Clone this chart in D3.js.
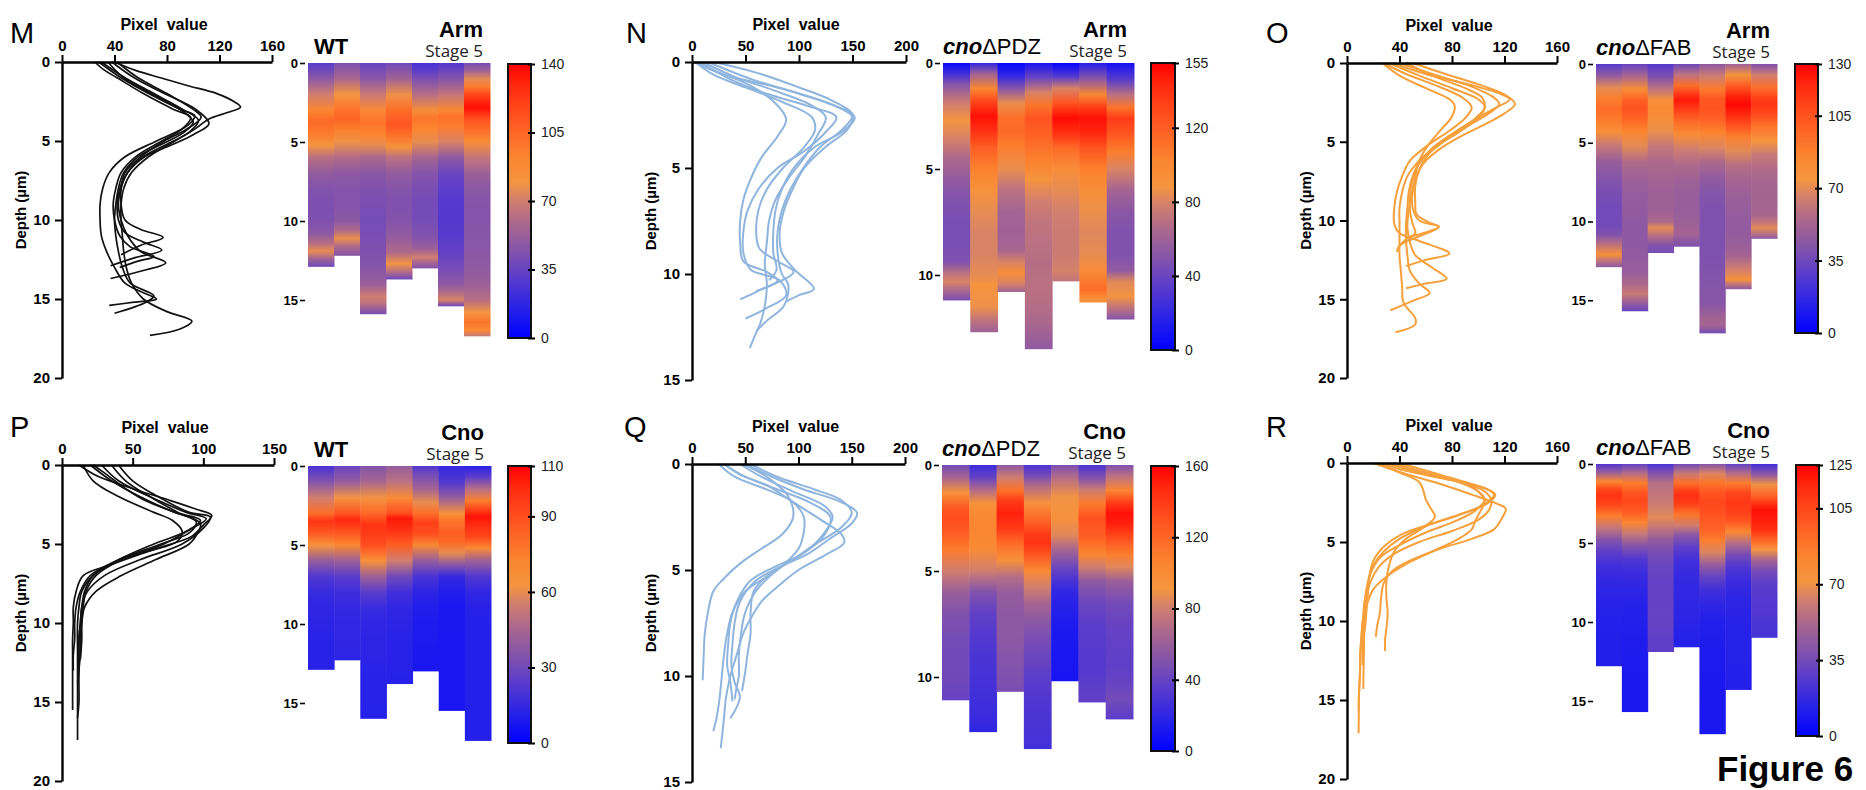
<!DOCTYPE html>
<html>
<head>
<meta charset="utf-8">
<script src="https://cdn.jsdelivr.net/npm/d3@7"></script>
<style>
  body { margin: 0; background: #fff; }
  svg { display: block; }
</style>
</head>
<body>
<svg id="fig" width="1866" height="790"></svg>
<script>
// ---- Datos: cada perfil es [valor de pixel, profundidad µm]; el orden coincide con las columnas del mapa de calor
const mCurves = [
  [[30,0],[48,1],[70,2],[92,3],[104,3.7],[96,4.5],[80,5.2],[62,6],[50,7],[44,8],[42,9],[43,10],[48,10.8],[62,11.4],[76,11.9],[55,12.4],[37,12.9]],
  [[42,0],[58,1],[80,2],[100,3],[106,3.5],[94,4.3],[78,5],[60,6],[48,7],[45,8],[45,9],[48,10],[60,10.6],[77,11.1],[60,11.6],[45,12.2]],
  [[35,0],[47,1],[68,2],[90,3],[100,3.8],[92,4.5],[76,5.2],[58,6],[47,7],[43,8],[41,9],[40,10],[41,11],[43,12],[46,13],[52,14],[70,14.8],[64,15.2],[40,15.9]],
  [[38,0],[55,1],[78,2],[102,3],[112,3.9],[100,4.6],[82,5.3],[63,6],[50,7],[45,8],[43,9],[45,10],[50,11],[60,12],[79,12.7],[62,13.2],[37,13.7]],
  [[25,0],[32,0.5],[42,1],[62,2],[85,3],[98,3.5],[92,4.2],[76,5],[56,6],[45,7],[41,8],[39,9],[40,10],[44,11],[52,11.7],[70,12.3],[58,12.6],[44,13]],
  [[28,0],[45,1],[66,2],[90,3],[101,3.4],[96,4],[72,5],[48,6],[36,7],[31,8],[29,9],[29,10],[30,11],[34,12],[40,13],[48,14],[62,14.6],[72,15],[55,15.2],[36,15.4]],
  [[40,0],[55,0.5],[75,1],[96,1.5],[118,2],[131,2.5],[136,2.85],[126,3.2],[112,3.6],[102,4.2],[86,5],[66,6],[53,7],[47,8],[45,9],[45,10],[46,11],[47,12],[49,13],[53,14],[62,15],[80,15.8],[99,16.4],[90,16.9],[67,17.3]]
];
const nCurves = [
  [[5,0],[25,0.5],[50,1],[75,1.8],[88,2.7],[80,3.5],[65,4.5],[55,5.5],[48,6.5],[45,7.5],[45,8.5],[48,9.4],[70,9.9],[80,10.3],[62,10.8],[45,11.2]],
  [[20,0],[60,0.5],[100,1.2],[130,1.8],[150,2.5],[140,3.2],[120,4],[104,5],[92,6],[84,7],[80,8],[80,9],[84,10],[90,10.5],[86,11.5],[70,12.2],[60,12.7]],
  [[3,0],[20,0.6],[50,1.2],[85,1.9],[112,2.6],[115,3.2],[105,4],[85,5],[70,6],[62,7],[60,8],[63,8.8],[80,9.4],[95,9.9],[80,10.4],[60,10.8]],
  [[10,0],[40,0.7],[80,1.4],[110,2],[125,2.6],[118,3.4],[105,4.5],[90,5.5],[78,6.5],[72,7.5],[70,8.5],[68,9.5],[70,10.5],[68,11.5],[64,12.3],[58,13],[54,13.5]],
  [[2,0],[30,0.6],[80,1.2],[125,1.9],[152,2.6],[140,3.3],[115,4],[95,5],[84,6],[78,7],[76,8],[76,9],[79,9.8],[72,10.3]],
  [[15,0],[55,0.8],[100,1.5],[135,2.1],[150,2.6],[145,3.2],[125,4],[105,5],[94,6],[86,7],[82,8],[84,9],[96,9.8],[114,10.7],[100,11],[88,11.3]],
  [[8,0],[35,0.8],[70,1.5],[110,2.1],[135,2.6],[125,3.3],[105,4.2],[80,5],[62,6],[52,7],[48,8],[48,9],[55,9.8],[82,10.3],[88,11],[70,11.6],[50,12.1]]
];
const oCurves = [
  [[28,0],[45,0.7],[70,1.5],[88,2.2],[95,2.8],[90,3.5],[78,4.3],[62,5.2],[48,6.2],[42,7.2],[38,8.2],[36,9.2],[36,10.2],[40,10.8],[55,11.3],[78,12.1],[60,12.5],[45,12.9]],
  [[32,0],[55,0.8],[80,1.6],[100,2.3],[105,2.8],[98,3.5],[85,4.3],[70,5.2],[56,6.2],[50,7.2],[47,8.2],[46,9.2],[45,10.2],[45,11.2],[46,12.2],[48,13.2],[55,14],[63,14.6],[50,15.1],[33,15.7]],
  [[27,0],[40,0.8],[60,1.6],[78,2.3],[82,2.7],[80,3.4],[72,4.2],[62,5.2],[55,6.2],[52,7.2],[50,8.2],[50,9.2],[55,10],[70,10.4],[55,11],[40,11.6],[38,12]],
  [[35,0],[60,0.7],[95,1.4],[118,2],[124,2.3],[112,2.9],[95,3.7],[80,4.5],[65,5.4],[55,6.4],[50,7.4],[48,8.4],[48,9.4],[50,10.2],[52,10.8],[45,11.2],[40,11.6]],
  [[45,0],[65,0.8],[90,1.6],[103,2.2],[105,2.8],[100,3.5],[85,4.4],[68,5.3],[55,6.2],[46,7.2],[42,8.2],[40,9.2],[40,10.2],[40,11.2],[40,12.2],[41,13.2],[42,14.2],[43,15.2],[52,16.2],[52,16.6],[37,17.1]],
  [[50,0],[75,0.7],[105,1.5],[122,2.1],[128,2.6],[120,3.2],[105,3.9],[88,4.6],[70,5.5],[58,6.4],[52,7.4],[49,8.4],[47,9.4],[46,10.4],[48,11.4],[52,12.2],[65,13],[76,13.7],[60,14],[45,14.3]],
  [[40,0],[65,0.7],[95,1.5],[112,2.2],[116,2.6],[108,3.2],[92,4],[75,4.9],[62,5.8],[55,6.8],[52,7.8],[52,8.8],[53,9.6],[62,10.1],[70,10.4],[58,10.8],[44,11.1]]
];
const pCurves = [
  [[20,0],[35,1],[55,2],[80,3],[98,3.5],[88,4.2],[65,5],[40,6],[22,7],[16,8],[14,9],[13,10],[12,11],[12,12],[12,12.9]],
  [[28,0],[40,1],[62,2],[88,3],[102,3.4],[92,4],[72,5],[42,6],[24,7],[17,8],[15,9],[14,10],[14,11],[13,12.3]],
  [[35,0],[45,1],[62,2],[82,3],[98,3.7],[96,4.3],[90,5],[66,6],[42,7],[24,8],[16,9],[14,10],[13,11],[13,12],[12,13],[12,14],[12,15],[11,16]],
  [[40,0],[50,1],[68,2],[90,3],[105,3.3],[100,4],[85,5],[55,6],[30,7],[18,8],[14,9],[13,10],[12,11],[12,12],[12,13],[11,13.8]],
  [[22,0],[30,0.5],[45,1.5],[60,2.3],[80,3],[95,3.6],[90,4.3],[70,5],[40,6],[20,7],[13,8],[10,9],[9,10],[9,11],[8,12],[8,13]],
  [[15,0],[22,1],[40,2],[65,3],[78,3.5],[85,4.2],[82,4.8],[60,5.5],[35,6.3],[15,7],[10,8],[8,9],[8,10],[7.5,11],[7.5,12],[7.5,13],[7.5,14],[7.5,15.5]],
  [[12,0],[25,0.7],[50,1.5],[75,2.2],[95,2.8],[106,3.2],[100,3.8],[92,4.5],[70,5.2],[42,6],[22,7],[14,8],[12,9],[11,10],[11,12],[11,14],[11,16],[11,17.4]]
];
const qCurves = [
  [[45,0],[65,0.6],[95,1.3],[125,2],[132,2.5],[125,3.2],[110,4],[80,5],[60,6],[50,7],[46,8],[44,9],[44,10],[42,10.5],[40,11.1]],
  [[25,0],[40,0.6],[70,1.2],[95,1.8],[105,2.5],[105,3.2],[100,4],[80,5],[50,6],[38,7],[33,8],[30,9],[28,10],[26,11],[23,12],[20,12.6]],
  [[55,0],[80,0.6],[115,1.2],[140,1.7],[150,2.3],[140,3],[115,3.8],[95,4.5],[70,5.3],[58,6],[55,7],[55,8],[52,9],[50,9.8],[47,10.7]],
  [[30,0],[45,0.5],[70,1],[95,1.8],[120,2.6],[140,3.3],[143,3.7],[125,4.3],[100,5],[80,5.8],[65,6.5],[55,7.3],[48,8],[42,9],[36,10],[32,11],[30,12],[27,13.4]],
  [[48,0],[70,0.6],[90,1.5],[95,2.5],[85,3.3],[65,4],[45,4.7],[30,5.4],[20,6],[15,7],[12,8],[11,9],[10,10.2]],
  [[30,0],[50,0.6],[80,1.2],[110,1.8],[130,2.5],[125,3.3],[105,4.2],[80,4.8],[55,5.5],[42,6.5],[36,7.5],[34,8.5],[33,9.5],[36,10.3],[38,11.2]],
  [[50,0],[75,0.6],[105,1.2],[140,1.8],[155,2.3],[150,2.8],[130,3.5],[110,4.2],[85,4.8],[60,5.5],[45,6.5],[40,7.5],[38,8.5],[37,9.5],[40,10.3],[45,11],[36,12]]
];
const rCurves = [
  [[25,0],[45,0.5],[80,1.1],[105,1.6],[112,2],[105,2.6],[85,3.3],[60,4],[40,4.8],[28,5.6],[20,6.5],[16,7.5],[14,8.5],[13,9.5],[12,10.5],[12,11.5],[12,12.8]],
  [[30,0],[55,0.6],[85,1.2],[100,1.8],[105,2.3],[98,3],[82,3.7],[60,4.4],[40,5.2],[25,6],[18,7],[15,8],[13,9],[12,10],[11,11],[10.5,12],[10,13],[9.5,14],[9,15],[9,15.7]],
  [[23,0],[40,0.6],[55,1.2],[58,1.7],[60,2.3],[64,2.9],[67,3.4],[58,4.1],[45,4.8],[36,5.6],[32,6.5],[30,7.5],[30,8.5],[31,9.5],[30,10.5],[29,11.2],[29,11.9]],
  [[35,0],[60,0.6],[90,1.2],[108,1.7],[113,2],[108,2.5],[88,3.2],[62,3.9],[42,4.5],[28,5.3],[20,6.2],[17,7.2],[16,8.2],[15,9.2],[14,10.2],[13,11],[13,11.6]],
  [[40,0],[65,0.6],[88,1.2],[100,1.8],[105,2.4],[102,3],[98,3.6],[95,4.2],[85,4.8],[65,5.6],[45,6.4],[30,7.2],[20,8],[15,9],[12,10],[11,11],[10,12],[10,13],[9.5,14],[9,15],[9,16],[8.8,17.1]],
  [[30,0],[55,0.6],[85,1.2],[105,1.8],[110,2.4],[108,3],[100,3.6],[80,4.3],[55,5],[35,5.8],[24,6.6],[18,7.5],[15,8.5],[14,9.5],[13,10.5],[13,11.5],[12.8,12.5],[12.5,13.5],[12.5,14.3]],
  [[20,0],[45,0.7],[70,1.3],[95,2],[115,2.6],[121,2.9],[118,3.5],[112,4.2],[95,4.8],[72,5.4],[50,6.1],[35,6.8],[28,7.6],[26,8.5],[25,9.5],[23,10.3],[22,11]]
];

// Marcas de los ejes
const mXTicks = [0, 40, 80, 120, 160];
const nXTicks = [0, 50, 100, 150, 200];
const pXTicks = [0, 50, 100, 150];
const depth20Ticks = [0, 5, 10, 15, 20];
const depth15Ticks = [0, 5, 10, 15];
const heat15Ticks = [0, 5, 10, 15];
const heat10Ticks = [0, 5, 10];
const mBarTicks = [0, 35, 70, 105, 140];
const nBarTicks = [0, 40, 80, 120, 155];
const oBarTicks = [0, 35, 70, 105, 130];
const pBarTicks = [0, 30, 60, 90, 110];
const qBarTicks = [0, 40, 80, 120, 160];
const rBarTicks = [0, 35, 70, 105, 125];

// Mapa de color (azul -> púrpura -> naranja -> rojo)
const cmapT = [0, 0.1, 0.22, 0.32, 0.42, 0.5, 0.57, 0.66, 0.8, 0.92, 1];
const cmapC = ["#0000ff", "#2420ea", "#5a3ccc", "#8454aa", "#ac688c", "#d07e70",
               "#f5953f", "#fb8530", "#ff5520", "#ff2a10", "#ff0000"];
const cmap = d3.scaleLinear().domain(cmapT).range(cmapC).clamp(true);

const FONT = "'Liberation Sans', Arial, sans-serif";

const panels = [
  {id: "m", letter: "M", curves: mCurves, xTicks: mXTicks, depthMax: 20, depthTicks: depth20Ticks, heatTicks: heat15Ticks,
   barTicks: mBarTicks, geno: ["WT"], prot: "Arm", color: "#111",
   lx: [62, 272], ly: [62, 378], hx: [308, 490], bx: [508, 531], by: [64, 338], letterY: 43},
  {id: "n", letter: "N", curves: nCurves, xTicks: nXTicks, depthMax: 15, depthTicks: depth15Ticks, heatTicks: heat10Ticks,
   barTicks: nBarTicks, geno: ["cno", "ΔPDZ"], prot: "Arm", color: "#8fb5de",
   lx: [692, 906], ly: [62, 380], hx: [943, 1134], bx: [1151, 1175], by: [63, 350], letterY: 43, letterX: 626},
  {id: "o", letter: "O", curves: oCurves, xTicks: mXTicks, depthMax: 20, depthTicks: depth20Ticks, heatTicks: heat15Ticks,
   barTicks: oBarTicks, geno: ["cno", "ΔFAB"], prot: "Arm", color: "#f6a03c",
   lx: [1347, 1557], ly: [63, 378], hx: [1596, 1777], bx: [1795, 1818], by: [64, 333], letterY: 43, letterX: 1266},
  {id: "p", letter: "P", curves: pCurves, xTicks: pXTicks, depthMax: 20, depthTicks: depth20Ticks, heatTicks: heat15Ticks,
   barTicks: pBarTicks, geno: ["WT"], prot: "Cno", color: "#111",
   lx: [62, 274], ly: [465, 781], hx: [308, 491], bx: [508, 531], by: [466, 743], letterY: 437},
  {id: "q", letter: "Q", curves: qCurves, xTicks: nXTicks, depthMax: 15, depthTicks: depth15Ticks, heatTicks: heat10Ticks,
   barTicks: qBarTicks, geno: ["cno", "ΔPDZ"], prot: "Cno", color: "#8fb5de",
   lx: [692, 905], ly: [464, 782], hx: [942, 1133], bx: [1151, 1175], by: [466, 751], letterY: 437, letterX: 624},
  {id: "r", letter: "R", curves: rCurves, xTicks: mXTicks, depthMax: 20, depthTicks: depth20Ticks, heatTicks: heat15Ticks,
   barTicks: rBarTicks, geno: ["cno", "ΔFAB"], prot: "Cno", color: "#f6a03c",
   lx: [1347, 1557], ly: [463, 779], hx: [1596, 1777], bx: [1796, 1819], by: [465, 736], letterY: 437, letterX: 1266}
];

const svg = d3.select("#fig");
const defs = svg.append("defs");

panels.forEach(p => {
  const g = svg.append("g").attr("class", "panel-" + p.id);
  const xMax = p.xTicks[p.xTicks.length - 1];
  const barMax = p.barTicks[p.barTicks.length - 1];

  const x = d3.scaleLinear().domain([0, xMax]).range(p.lx);
  const y = d3.scaleLinear().domain([0, p.depthMax]).range(p.ly);

  // Letra del panel
  g.append("text")
    .attr("x", p.letterX || 10).attr("y", p.letterY)
    .style("font-family", FONT).style("font-size", "29px")
    .text(p.letter);

  // Título eje X
  g.append("text")
    .attr("x", (p.lx[0] + p.lx[1]) / 2 - 3).attr("y", p.ly[0] - 32)
    .attr("text-anchor", "middle")
    .style("font-family", FONT).style("font-size", "16px").style("font-weight", "bold")
    .attr("xml:space", "preserve")
    .text("Pixel  value");

  // Título eje Y
  g.append("text")
    .attr("transform", `translate(${p.lx[0] - 40}, ${(p.ly[0] + p.ly[1]) / 2 - 10}) rotate(-90)`)
    .attr("text-anchor", "middle")
    .attr("dominant-baseline", "middle")
    .style("font-family", FONT).style("font-size", "15px").style("font-weight", "bold")
    .text("Depth (µm)");

  // Perfiles
  const line = d3.line()
    .x(d => x(d[0]))
    .y(d => y(d[1]))
    .curve(d3.curveCatmullRom.alpha(0.5));

  g.append("g").selectAll("path")
    .data(p.curves)
    .enter().append("path")
    .attr("d", line)
    .attr("fill", "none")
    .attr("stroke", p.color)
    .attr("stroke-width", p.color === "#111" ? 1.7 : 2);

  // Ejes
  const xAxis = g.append("g")
    .attr("transform", `translate(0, ${p.ly[0]})`)
    .call(d3.axisTop(x).tickValues(p.xTicks).tickSize(7).tickSizeOuter(0).tickPadding(4));
  const yAxis = g.append("g")
    .attr("transform", `translate(${p.lx[0]}, 0)`)
    .call(d3.axisLeft(y).tickValues(p.depthTicks).tickSize(7).tickSizeOuter(0).tickPadding(5));
  [xAxis, yAxis].forEach(a => {
    a.select(".domain").attr("stroke", "#000").attr("stroke-width", 2.4);
    a.selectAll(".tick line").attr("stroke", "#000").attr("stroke-width", 2);
    a.selectAll(".tick text")
      .style("font-family", FONT).style("font-size", "15px").style("font-weight", "bold").attr("fill", "#000");
  });

  // Mapa de calor: una columna por perfil
  const hy = d3.scaleLinear().domain([0, p.depthMax]).range([p.ly[0] + 1, p.ly[1] + 1]);
  const hx = d3.scaleBand().domain(d3.range(p.curves.length)).range(p.hx).padding(0);

  p.curves.forEach((c, i) => {
    const end = c[c.length - 1][1];
    const gid = `hg-${p.id}-${i}`;
    const grad = defs.append("linearGradient")
      .attr("id", gid).attr("x1", 0).attr("y1", 0).attr("x2", 0).attr("y2", 1);
    grad.selectAll("stop")
      .data(c)
      .enter().append("stop")
      .attr("offset", d => d[1] / end)
      .attr("stop-color", d => cmap(d[0] / barMax));
    g.append("rect")
      .attr("x", hx(i)).attr("y", hy(0))
      .attr("width", hx.bandwidth() + 0.5)
      .attr("height", hy(end) - hy(0))
      .attr("fill", `url(#${gid})`);
  });

  const hAxis = g.append("g")
    .attr("transform", `translate(${p.hx[0] - 3}, 0)`)
    .call(d3.axisLeft(hy).tickValues(p.heatTicks).tickSize(5).tickSizeOuter(0).tickPadding(2));
  hAxis.select(".domain").remove();
  hAxis.selectAll(".tick line").attr("stroke", "#000").attr("stroke-width", 1.6);
  hAxis.selectAll(".tick text")
    .style("font-family", FONT).style("font-size", "13px").style("font-weight", "bold").attr("fill", "#000");

  // Títulos del mapa de calor
  const top = hy(0);
  const geno = g.append("text")
    .attr("x", p.hx[0] + (p.geno.length > 1 ? 0 : 6)).attr("y", top - 9)
    .style("font-family", FONT).style("font-size", "22px");
  if (p.geno.length > 1) {
    geno.append("tspan").style("font-weight", "bold").style("font-style", "italic").text(p.geno[0]);
    geno.append("tspan").text(p.geno[1]);
  } else {
    geno.style("font-weight", "bold").text(p.geno[0]);
  }
  g.append("text")
    .attr("x", p.hx[1] - 7).attr("y", top - 26)
    .attr("text-anchor", "end")
    .style("font-family", FONT).style("font-size", "22px").style("font-weight", "bold")
    .text(p.prot);
  g.append("text")
    .attr("x", p.hx[1] - 7).attr("y", top - 6)
    .attr("text-anchor", "end")
    .style("font-family", "'Open Sans', sans-serif").style("font-size", "17px").attr("fill", "#222")
    .text("Stage 5");

  // Barra de color
  const bid = `bar-${p.id}`;
  const bgrad = defs.append("linearGradient")
    .attr("id", bid).attr("x1", 0).attr("y1", 1).attr("x2", 0).attr("y2", 0);
  bgrad.selectAll("stop")
    .data(cmapT)
    .enter().append("stop")
    .attr("offset", d => d)
    .attr("stop-color", d => cmap(d));
  g.append("rect")
    .attr("x", p.bx[0]).attr("y", p.by[0])
    .attr("width", p.bx[1] - p.bx[0]).attr("height", p.by[1] - p.by[0])
    .attr("fill", `url(#${bid})`)
    .attr("stroke", "#111").attr("stroke-width", 2);

  const by = d3.scaleLinear().domain([0, barMax]).range([p.by[1], p.by[0]]);
  const bAxis = g.append("g")
    .attr("transform", `translate(${p.bx[1]}, 0)`)
    .call(d3.axisRight(by).tickValues(p.barTicks).tickSize(4).tickSizeOuter(0).tickPadding(6));
  bAxis.select(".domain").remove();
  bAxis.selectAll(".tick line").attr("x1", -3).attr("stroke", "#000").attr("stroke-width", 2);
  bAxis.selectAll(".tick text")
    .style("font-family", FONT).style("font-size", "14px").attr("fill", "#222");
});

// Rótulo de la figura (subido para que quede completo dentro del lienzo)
svg.append("text")
  .attr("x", 1717).attr("y", 781)
  .style("font-family", FONT).style("font-size", "35px").style("font-weight", "bold")
  .text("Figure 6");
</script>
</body>
</html>
